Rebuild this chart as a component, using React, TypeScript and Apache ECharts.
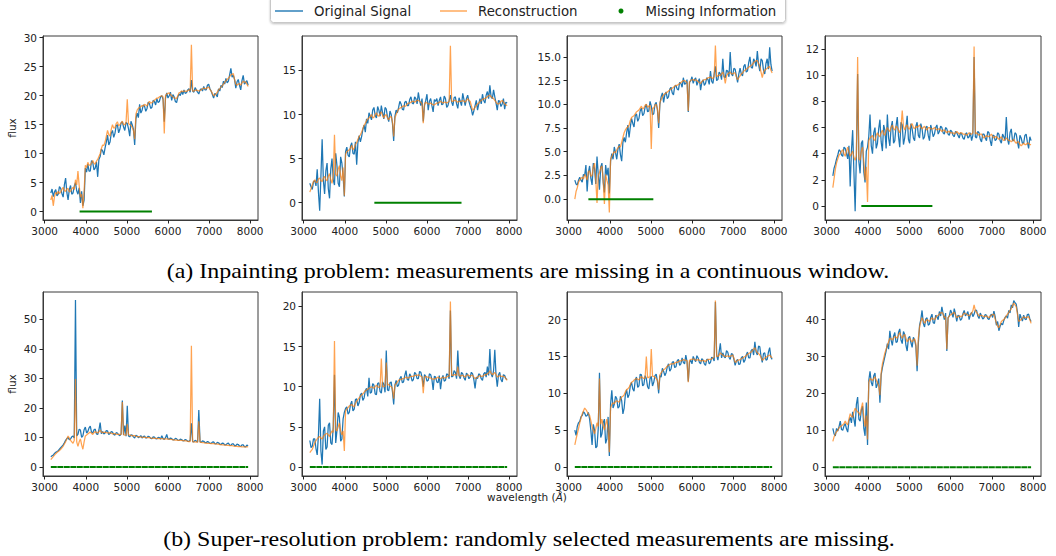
import React, { useEffect, useRef } from "react";
import * as echarts from "echarts";

// ---------------- data ----------------
const wavelengths = [
  3150, 3180, 3210, 3240, 3270, 3300, 3330, 3360, 3390, 3420,
  3450, 3480, 3510, 3540, 3570, 3600, 3630, 3660, 3690, 3720,
  3750, 3780, 3810, 3840, 3870, 3900, 3930, 3960, 3990, 4020,
  4050, 4080, 4110, 4140, 4170, 4200, 4230, 4260, 4290, 4320,
  4350, 4380, 4410, 4440, 4470, 4500, 4530, 4560, 4590, 4620,
  4650, 4680, 4710, 4740, 4770, 4800, 4830, 4860, 4890, 4920,
  4950, 4980, 5010, 5040, 5070, 5100, 5130, 5160, 5190, 5220,
  5250, 5280, 5310, 5340, 5370, 5400, 5430, 5460, 5490, 5520,
  5550, 5580, 5610, 5640, 5670, 5700, 5730, 5760, 5790, 5820,
  5850, 5880, 5910, 5940, 5970, 6000, 6030, 6060, 6090, 6120,
  6150, 6180, 6210, 6240, 6270, 6300, 6330, 6360, 6390, 6420,
  6450, 6480, 6510, 6540, 6570, 6600, 6630, 6660, 6690, 6720,
  6750, 6780, 6810, 6840, 6870, 6900, 6930, 6960, 6990, 7020,
  7050, 7080, 7110, 7140, 7170, 7200, 7230, 7260, 7290, 7320,
  7350, 7380, 7410, 7440, 7470, 7500, 7530, 7560, 7590, 7620,
  7650, 7680, 7710, 7740, 7770, 7800, 7830, 7860, 7890, 7920,
  7950,
];

// (a) inpainting
const a1Original = [3.2,3.9,2.6,3.4,3.8,2.7,3.0,4.3,4.0,3.1,2.5,4.6,5.8,3.3,2.0,3.8,4.5,3.0,3.2,4.4,5.0,3.6,3.0,4.1,1.5,3.5,1.0,2.0,7.5,6.8,8.2,7.0,7.0,8.8,8.5,7.2,7.5,8.6,6.0,9.0,9.5,10.8,10.5,9.8,11.0,12.0,13.2,11.5,12.0,13.5,14.0,12.8,13.5,14.8,15.0,13.6,14.2,15.3,15.5,14.6,14.0,15.4,15.2,14.3,13.0,15.6,15.0,14.2,11.5,16.0,17.0,16.2,18.5,17.0,17.5,18.4,18.2,17.3,17.8,18.9,18.6,17.8,18.0,19.2,19.0,18.4,19.5,18.8,19.0,19.8,20.0,19.4,15.5,19.6,20.5,19.6,20.0,20.6,19.2,20.2,19.8,19.0,18.8,19.8,20.3,20.0,20.8,20.2,21.0,20.4,20.5,21.0,21.2,20.6,22.7,20.8,20.6,21.4,21.0,20.6,20.3,21.0,21.2,20.8,21.6,21.0,21.0,21.8,22.0,21.2,20.8,20.2,19.6,20.4,20.2,19.8,21.2,20.8,21.8,21.4,22.5,22.0,23.0,22.2,22.5,23.6,24.7,23.2,23.5,22.8,21.3,22.4,22.8,21.8,21.0,22.6,23.5,22.0,22.3,22.6,21.8];
const a1Reconstruction = [2.0,2.8,1.0,2.6,3.3,3.0,3.5,3.1,3.4,3.8,4.2,3.6,3.5,3.9,4.0,3.4,3.5,3.9,4.2,3.8,5.5,4.6,7.0,4.5,2.5,3.0,0.6,3.5,8.0,7.6,8.5,8.0,8.0,8.4,8.8,8.3,8.2,8.7,9.0,9.5,10.0,10.9,11.5,11.4,12.0,13.0,14.0,13.3,13.0,14.2,15.0,14.4,14.5,15.2,15.5,14.8,15.0,15.3,15.6,15.0,15.0,15.4,19.4,15.2,15.0,14.9,14.5,14.0,12.5,16.8,17.5,17.8,18.0,18.1,18.3,18.2,18.5,18.4,18.2,18.7,19.0,18.7,18.8,19.0,19.2,19.4,19.6,19.6,19.8,19.9,20.0,19.8,13.5,20.0,20.3,20.4,20.5,20.2,20.0,19.8,19.6,19.6,19.5,20.0,20.5,20.6,20.8,20.7,20.8,20.8,20.7,20.9,21.0,20.9,28.8,20.8,20.8,20.9,21.0,20.9,20.8,20.9,21.0,21.2,21.3,21.2,21.2,21.4,21.5,21.1,20.8,20.4,20.0,20.1,20.3,20.6,21.0,21.2,21.5,21.7,22.0,22.3,22.6,22.8,23.0,23.3,23.6,23.7,23.8,22.8,22.0,21.8,22.0,22.1,21.8,22.2,22.5,22.3,22.4,22.0,21.6];
const a1Missing = [3850, 5610];

const a2Original = [2.2,1.8,1.5,2.4,2.5,1.9,3.8,1.2,-0.9,3.0,7.2,2.5,1.0,3.6,4.5,1.6,0.5,3.8,5.0,2.6,2.0,5.6,4.2,2.2,1.8,5.2,4.5,3.0,0.7,5.8,6.3,5.4,5.2,6.4,6.8,5.6,5.5,6.9,4.3,6.8,7.6,6.9,7.5,8.3,8.8,8.0,9.5,9.0,10.2,9.8,9.4,10.5,10.8,9.9,9.6,10.9,10.5,9.8,11.0,10.2,9.5,10.8,10.6,9.7,9.2,10.4,10.0,9.0,7.0,9.8,10.5,10.2,10.8,11.5,11.2,10.6,10.5,11.4,11.5,11.0,11.0,11.7,12.0,11.3,11.2,12.0,11.8,11.2,12.5,11.6,11.0,11.8,9.2,11.0,11.6,12.3,10.5,11.5,11.8,11.0,10.3,11.7,11.5,11.8,11.0,11.6,12.0,11.1,11.2,12.1,11.8,10.8,11.0,11.6,12.2,11.4,11.0,11.9,12.0,11.2,10.7,11.9,11.5,11.0,12.4,11.7,11.0,11.8,12.2,11.5,11.0,10.6,9.9,10.4,11.0,11.6,10.5,11.2,11.8,11.2,12.3,11.6,11.3,12.2,12.6,11.8,13.3,12.0,11.8,12.8,12.0,11.3,10.5,11.6,11.5,10.9,11.2,11.8,10.6,11.4,11.3];
const a2Reconstruction = [1.2,1.6,2.0,2.4,2.6,2.3,2.3,2.7,2.8,2.5,2.4,2.8,3.0,2.6,2.5,3.0,3.3,2.6,2.2,3.0,7.7,3.2,3.0,3.8,4.2,3.0,2.5,4.0,0.8,5.5,5.8,5.9,6.0,6.2,6.5,6.0,6.2,6.6,6.8,7.2,7.5,7.7,8.0,8.4,8.8,9.0,9.3,9.5,9.6,9.8,10.0,9.6,9.7,10.0,10.2,9.9,9.8,10.1,10.3,9.9,9.6,9.9,10.0,9.6,9.4,9.7,9.8,9.2,7.5,9.6,10.0,10.3,10.6,10.7,10.8,10.9,11.0,10.9,11.0,11.2,11.3,11.3,11.4,11.5,11.5,11.4,11.5,11.6,11.6,11.5,11.4,11.2,9.0,11.2,11.4,11.3,11.2,11.2,11.3,11.2,11.1,11.1,11.2,11.3,11.3,11.4,11.5,11.4,11.3,11.4,11.4,11.3,11.4,11.5,17.8,11.5,11.5,11.6,11.6,11.5,11.4,11.5,11.5,11.5,11.6,11.5,11.4,11.6,11.8,11.6,11.5,11.0,10.5,10.6,10.8,11.0,11.2,11.3,11.5,11.6,11.7,11.8,11.8,11.9,12.0,12.1,12.2,12.0,11.9,11.8,11.6,11.4,11.2,11.2,11.3,11.5,11.6,11.4,11.2,11.1,11.0];
const a2Missing = [4720, 6840];

const a3Original = [2.0,1.6,1.5,2.0,2.3,2.0,1.8,2.6,2.5,3.6,0.8,2.8,3.5,2.2,1.5,3.8,3.2,1.6,4.5,2.6,1.0,3.4,3.8,1.8,0.7,3.6,2.5,3.3,0.6,4.0,4.8,4.2,5.5,4.9,4.2,5.3,5.8,4.7,4.0,6.0,6.5,6.0,7.0,7.8,6.5,7.6,8.5,8.0,7.6,8.8,9.0,8.2,8.5,9.3,9.6,8.8,9.0,9.7,10.0,9.2,9.3,10.3,9.8,8.9,9.0,10.0,10.2,9.4,7.5,10.0,10.8,11.2,10.2,11.0,11.3,10.6,10.8,11.6,11.8,11.2,11.0,11.9,12.0,11.6,11.5,12.3,12.2,11.8,12.8,12.1,12.2,12.6,9.2,12.3,12.5,12.9,12.2,12.6,12.8,12.0,12.4,12.7,11.5,12.3,12.6,12.0,12.2,12.8,12.6,12.1,13.5,12.4,12.2,13.2,14.0,12.5,12.6,13.4,13.2,12.6,14.8,12.9,12.8,13.6,13.5,12.9,15.5,13.2,13.0,13.8,13.7,13.0,12.3,13.2,13.8,13.2,13.0,14.0,14.2,13.4,13.5,14.4,15.0,13.9,13.8,14.8,14.5,14.0,15.6,14.2,13.5,14.8,14.6,13.6,13.2,14.3,14.8,13.7,16.0,14.2,13.5];
const a3Reconstruction = [0.0,0.8,1.2,1.8,2.0,2.2,2.3,2.1,2.6,2.4,2.0,2.9,3.0,2.4,2.5,3.4,3.8,2.0,-0.4,2.5,2.8,3.3,3.5,2.0,-0.5,2.6,2.0,1.5,-1.4,4.2,4.5,4.8,5.0,4.9,5.2,5.4,5.6,5.5,6.0,6.5,7.0,7.3,7.5,7.6,7.8,8.3,8.6,8.7,8.8,9.0,9.2,9.3,9.4,9.6,9.8,9.5,9.6,9.9,10.0,9.7,9.8,9.9,5.3,9.6,9.6,9.9,10.0,9.5,8.0,10.2,10.5,10.8,11.0,11.1,11.2,11.3,11.4,11.5,11.6,11.7,11.8,11.9,12.0,12.0,12.1,12.2,12.3,12.4,12.5,12.5,12.4,12.3,9.3,12.4,12.5,12.6,12.6,12.5,12.6,12.5,12.4,12.3,12.2,12.4,12.5,12.6,12.6,12.7,12.8,12.8,12.9,12.8,12.7,12.9,16.2,12.9,13.0,13.1,13.0,13.2,13.4,13.0,12.2,13.0,13.2,13.3,13.4,13.2,13.2,13.3,13.3,12.9,12.6,12.8,13.0,13.2,13.3,13.5,13.6,13.7,13.8,13.9,14.0,14.1,14.2,14.4,14.5,14.6,14.6,14.3,14.0,13.4,12.8,13.4,13.6,13.7,13.8,13.9,14.0,13.6,13.3];
const a3Missing = [3480, 5060];

const a4Original = [2.3,2.9,3.2,3.6,3.9,4.3,4.2,3.9,3.8,4.5,4.4,4.0,3.6,4.6,1.5,4.2,5.8,2.6,-0.4,3.8,10.1,3.4,2.5,4.8,5.0,2.6,1.8,4.2,4.5,5.3,7.0,4.6,4.0,5.6,6.0,4.4,4.8,5.9,6.6,4.9,4.2,6.2,5.8,4.4,7.0,5.2,4.6,6.0,6.5,4.8,5.0,6.1,6.8,5.3,4.5,6.4,6.2,4.7,5.2,6.0,6.9,5.1,4.8,6.3,5.9,5.2,5.0,6.1,6.4,5.4,5.2,6.3,5.9,5.1,5.3,6.0,6.1,5.4,5.0,6.2,5.8,5.3,5.5,6.0,6.2,5.5,5.7,6.1,6.0,5.6,5.5,6.0,5.9,5.5,5.4,5.8,5.7,5.4,5.3,5.7,5.6,5.4,5.2,5.6,5.5,5.2,5.1,5.5,5.6,5.2,5.3,5.6,5.0,5.4,11.4,5.3,5.2,5.7,5.6,5.1,4.9,5.5,5.5,5.2,5.0,5.7,5.6,5.0,4.6,5.4,5.4,5.0,5.1,5.6,5.5,5.0,4.8,5.5,5.3,5.0,6.8,5.1,4.7,5.6,5.9,5.0,5.0,5.6,5.5,4.9,4.4,5.4,5.2,4.8,4.8,5.4,5.5,4.9,4.4,5.3,5.0];
const a4Reconstruction = [1.4,2.1,2.8,3.3,3.6,3.9,4.0,4.2,4.3,4.0,3.8,4.2,4.5,4.1,3.8,4.0,4.2,3.7,3.5,3.8,11.4,3.6,3.5,4.2,4.5,3.4,2.0,3.0,0.3,5.0,5.2,5.3,5.4,5.1,5.0,5.4,5.6,5.4,5.3,5.6,5.8,5.5,5.4,5.8,6.0,5.8,5.7,6.0,6.2,5.9,5.8,6.1,6.0,5.8,5.6,6.0,7.3,6.1,5.8,6.1,6.2,5.9,5.9,6.2,6.3,6.0,5.9,6.1,6.0,6.1,6.2,6.0,5.9,6.0,6.1,5.9,5.8,6.0,6.0,5.9,5.9,5.9,6.0,5.9,5.8,5.9,5.9,5.8,5.7,5.8,5.8,5.7,5.6,5.7,5.7,5.6,5.6,5.6,5.5,5.6,5.7,5.6,5.5,5.6,5.6,5.5,5.5,5.5,5.4,5.5,5.6,5.5,5.5,5.6,12.2,5.5,5.6,5.5,5.4,5.5,5.5,5.3,5.2,5.3,5.4,5.3,5.3,5.4,5.5,5.3,5.2,5.3,5.3,5.2,5.1,5.2,5.3,5.1,5.0,5.1,5.2,5.1,5.0,5.0,4.9,5.0,5.1,4.9,4.8,4.9,4.9,4.7,4.6,4.7,4.8,4.7,4.7,4.8,4.8,4.7,4.7];
const a4Missing = [3840, 5560];

// (b) super-resolution
const b1Original = [3.5,3.8,4.0,4.6,5.0,5.2,5.5,6.0,6.5,7.0,7.5,8.2,9.0,9.6,10.0,9.2,9.5,10.2,10.5,9.8,56.5,10.5,11.0,12.8,12.5,10.0,10.5,12.6,13.5,11.5,12.0,13.2,13.8,11.8,11.5,12.6,12.8,11.2,11.0,12.5,15.0,11.3,12.0,11.2,11.5,12.3,12.2,11.0,11.3,12.0,11.8,11.0,10.8,11.6,11.5,10.9,10.6,11.2,22.5,10.8,14.0,10.4,20.7,10.5,10.2,10.9,10.8,10.2,9.8,10.7,10.5,9.9,10.2,10.6,9.8,10.3,10.5,9.8,9.9,10.4,10.2,9.7,9.6,10.2,10.1,9.6,9.5,10.0,9.9,9.4,10.6,9.6,9.3,9.9,11.0,9.5,9.4,9.8,9.6,9.2,9.2,9.7,9.5,9.1,9.0,9.4,9.3,8.9,8.8,9.3,9.1,8.7,8.7,9.0,14.8,8.6,8.5,9.0,8.8,8.4,19.3,8.6,8.3,8.8,8.7,8.3,8.2,8.6,8.4,8.0,8.0,8.4,8.5,7.9,7.8,8.3,8.2,7.7,7.6,8.1,8.0,7.5,7.5,7.9,8.1,7.4,7.3,7.8,7.8,7.2,7.2,7.7,7.6,7.1,7.0,7.5,7.5,6.9,6.8,7.4,7.2];
const b1Reconstruction = [2.5,3.0,3.5,4.0,4.5,4.9,5.2,5.6,6.0,6.5,7.0,7.8,8.5,9.5,10.5,9.8,9.0,8.5,8.0,9.0,29.8,8.5,7.0,8.5,9.5,7.5,6.0,8.5,10.5,10.8,11.2,11.5,11.8,11.4,11.0,11.6,12.0,11.7,11.5,11.9,12.5,11.8,11.6,11.7,11.8,11.6,11.5,11.5,11.6,11.4,11.2,11.3,11.3,11.1,11.0,11.0,11.0,10.9,22.0,10.9,10.8,10.8,14.5,10.9,10.8,10.7,10.5,10.6,10.6,10.4,10.3,10.3,10.2,10.1,10.1,10.0,10.0,10.0,9.9,9.9,9.9,9.8,9.8,9.7,9.7,9.7,9.7,9.6,9.6,9.6,9.6,9.5,9.4,9.5,9.5,9.4,9.4,9.3,9.3,9.2,9.2,9.1,9.1,9.0,9.0,9.0,9.0,8.9,8.9,8.8,8.8,8.7,8.6,8.6,41.0,8.5,8.5,8.5,8.4,8.4,15.5,8.3,8.3,8.2,8.2,8.1,8.1,8.0,8.0,8.0,7.9,7.9,7.9,7.8,7.8,7.7,7.7,7.6,7.6,7.5,7.5,7.4,7.4,7.3,7.3,7.2,7.2,7.2,7.1,7.0,7.0,7.0,6.9,6.9,6.9,6.8,6.8,6.8,6.8,6.8,6.9];
const b1Missing = [3150, 7950];

const b2Original = [3.3,2.4,2.6,3.5,3.5,2.3,1.5,4.0,8.5,2.0,0.3,4.5,5.0,2.2,2.5,5.2,5.5,3.0,2.8,5.0,11.5,3.0,4.5,6.8,6.2,3.2,3.5,6.0,6.8,7.3,7.5,6.6,6.8,7.8,8.2,7.0,7.2,8.4,8.5,7.6,8.0,9.0,9.2,8.3,8.6,9.5,9.8,8.8,11.1,9.2,9.3,10.4,10.2,9.1,9.0,10.4,10.5,9.4,9.2,10.6,10.3,9.3,14.5,9.6,9.5,10.5,10.6,9.4,7.8,10.2,10.8,10.0,10.2,11.0,11.3,10.5,10.6,11.4,12.0,10.9,10.8,11.6,11.3,10.7,10.9,11.8,11.6,11.0,11.0,11.9,11.8,11.2,10.0,11.5,11.3,10.7,10.8,11.6,11.5,10.9,9.6,11.3,11.2,10.6,10.5,11.4,9.7,11.0,11.4,10.7,10.8,11.6,11.5,11.0,19.5,11.2,11.3,12.0,11.8,11.0,14.5,11.4,11.0,11.8,11.6,11.1,10.8,11.7,11.5,11.0,11.2,11.8,11.6,10.9,9.8,11.2,11.0,11.6,11.5,11.0,10.8,11.6,11.8,11.2,12.5,11.4,14.7,11.6,11.2,12.0,14.6,11.4,10.0,11.5,11.8,10.9,10.6,11.5,11.4,11.0,10.9];
const b2Reconstruction = [1.8,2.0,2.2,2.6,3.0,3.3,3.5,3.7,3.8,3.6,3.5,3.8,4.0,4.1,4.2,4.0,3.8,4.2,4.5,4.3,15.7,4.6,4.5,5.0,5.5,4.5,4.0,4.5,2.0,7.0,7.2,7.4,7.6,7.7,7.8,7.6,7.5,7.9,8.2,8.4,8.6,8.8,9.0,9.1,9.3,9.5,9.6,9.7,9.8,9.9,10.0,9.9,9.8,10.0,10.2,10.0,9.9,10.0,13.5,10.0,10.0,10.1,13.0,10.2,10.3,10.1,10.0,9.8,8.5,10.2,10.4,10.6,10.8,10.9,10.9,11.0,11.0,11.1,11.2,11.1,11.1,11.2,11.3,11.3,11.3,11.4,11.4,11.4,11.5,11.4,11.3,11.2,9.2,11.2,11.3,11.2,11.2,11.1,11.1,11.0,10.9,11.0,11.0,11.1,11.2,11.1,11.0,11.1,11.2,11.1,11.1,11.2,11.3,11.3,20.6,11.4,11.4,11.5,11.5,11.4,12.5,11.4,11.3,11.4,11.4,11.3,11.2,11.4,11.5,11.4,11.3,11.4,11.4,11.2,11.0,11.1,11.2,11.3,11.4,11.3,11.3,11.4,11.5,11.5,11.6,11.7,12.0,11.7,11.5,11.6,11.8,11.5,11.2,11.3,11.4,11.3,11.3,11.3,11.2,11.0,10.8];
const b2Missing = [3150, 7950];

const b3Original = [5.0,4.3,5.5,6.0,6.2,6.8,7.0,7.5,7.3,6.9,7.0,7.4,6.5,5.0,3.0,5.8,5.0,2.6,2.8,5.2,12.8,4.0,4.5,6.0,6.5,3.2,3.8,6.8,1.5,8.5,10.4,8.0,8.5,9.6,9.3,8.0,8.2,9.6,9.0,7.2,8.0,9.8,10.5,9.4,9.8,11.0,11.5,10.6,10.3,11.8,12.2,10.8,11.0,12.6,12.5,11.0,11.2,12.4,12.0,10.9,10.6,12.0,12.3,11.0,11.5,12.4,12.6,11.6,10.0,12.4,12.2,13.4,13.0,12.4,12.8,13.6,14.0,13.0,13.3,14.2,14.3,13.5,13.6,14.4,14.6,13.8,14.0,14.8,14.2,14.0,15.2,14.3,11.6,14.2,14.5,14.0,15.0,14.6,14.3,15.1,14.8,14.2,14.0,14.7,14.5,14.0,13.8,14.6,14.6,14.0,14.2,14.9,14.8,14.4,22.4,15.2,14.5,15.6,16.8,14.8,15.5,15.0,14.8,15.8,15.6,14.9,14.6,15.4,15.3,14.6,13.8,14.4,14.6,13.9,14.0,14.8,15.0,14.2,14.5,15.2,15.6,14.8,14.8,15.8,16.0,15.2,17.0,15.6,15.2,16.4,16.3,15.0,14.2,15.4,15.5,14.5,14.6,15.6,16.2,14.9,14.6];
const b3Reconstruction = [3.0,3.8,4.5,5.2,6.0,6.6,7.2,7.6,8.0,7.8,7.5,7.2,7.0,6.3,5.5,5.0,4.5,5.2,6.0,5.5,12.0,5.8,6.5,5.6,5.0,5.8,6.5,5.0,2.0,8.0,8.5,8.7,8.6,8.9,9.0,8.9,8.8,9.2,9.5,9.6,9.8,10.2,10.5,10.6,10.8,11.2,11.5,11.6,11.8,11.9,12.0,11.9,11.8,12.1,12.3,12.1,12.0,12.1,15.0,12.1,12.2,12.2,16.0,12.3,12.3,12.2,12.0,11.8,10.5,12.5,12.8,13.0,13.2,13.3,13.5,13.7,13.8,13.9,14.0,14.0,14.0,14.1,14.2,14.2,14.3,14.4,14.4,14.5,14.6,14.5,14.5,14.4,11.5,14.5,14.6,14.6,14.7,14.6,14.5,14.5,14.6,14.5,14.4,14.4,14.5,14.4,14.3,14.5,14.6,14.6,14.6,14.7,14.8,14.9,22.6,15.0,15.0,15.2,15.5,15.3,15.2,15.1,15.0,15.0,15.1,15.0,15.0,15.1,15.2,14.8,14.2,14.3,14.5,14.5,14.6,14.7,14.8,14.9,15.0,15.1,15.3,15.4,15.5,15.6,15.8,16.0,16.2,15.8,15.5,15.4,15.2,14.9,14.5,14.6,14.8,14.9,15.0,15.1,15.2,15.0,14.8];
const b3Missing = [3150, 7950];

const b4Original = [10.5,9.0,8.5,10.5,9.8,11.0,12.5,10.2,10.0,11.2,11.8,10.4,9.5,12.5,13.5,12.0,15.0,13.0,11.0,17.0,19.0,13.0,12.5,15.5,16.5,10.5,8.5,17.5,6.0,23.5,26.0,23.0,22.0,24.8,25.5,21.5,22.5,24.0,17.5,25.0,27.0,28.5,30.0,31.5,33.5,32.0,37.0,34.5,33.0,35.5,36.5,33.8,34.0,36.5,37.5,34.5,33.5,36.8,36.0,33.0,31.5,35.0,35.5,33.8,32.5,35.2,34.5,32.8,26.0,33.5,38.5,40.0,42.5,39.0,38.0,40.2,40.5,38.5,38.8,40.6,41.5,39.2,39.0,41.2,40.8,40.0,42.2,41.0,43.5,41.6,40.0,41.8,31.5,40.5,41.0,42.6,41.8,40.6,43.0,41.5,39.5,41.2,41.0,39.8,40.2,41.6,42.5,41.0,41.5,42.2,40.0,41.4,42.0,40.8,41.5,42.6,42.5,41.0,40.3,41.8,41.0,40.2,40.5,41.4,41.2,40.3,40.0,41.0,41.5,40.6,42.3,40.8,38.5,39.5,37.0,38.2,39.0,38.6,39.8,40.6,41.0,40.4,42.5,41.8,44.0,43.2,45.2,44.6,44.2,42.0,38.0,41.5,40.5,39.6,41.2,40.2,40.0,41.4,41.5,40.2,39.5];
const b4Reconstruction = [7.0,8.2,9.0,9.6,10.0,10.6,11.0,11.2,11.5,11.8,12.5,11.8,11.5,13.0,14.5,13.8,13.5,15.0,16.0,15.4,15.0,14.8,14.0,16.0,17.5,13.5,11.0,14.0,7.5,23.0,24.0,23.8,23.5,24.0,24.5,23.6,23.0,22.0,19.5,25.5,28.0,29.5,31.0,32.0,33.0,34.0,35.0,34.8,34.5,35.0,35.5,35.2,35.0,35.8,36.5,35.5,35.0,35.6,36.0,35.0,34.0,34.5,35.0,34.4,34.0,34.5,34.8,33.5,27.5,35.0,38.0,39.5,40.5,39.8,39.0,39.6,40.0,39.8,39.5,40.0,40.5,40.2,40.0,40.5,41.0,41.2,41.5,41.8,42.0,41.5,40.5,40.8,32.0,40.5,41.0,41.3,41.5,41.8,42.0,41.2,40.5,40.8,41.0,40.9,40.8,41.3,41.8,41.6,41.5,41.2,41.0,41.4,41.8,42.4,44.0,42.5,42.0,41.5,41.0,41.1,41.2,41.0,40.8,40.9,41.0,40.8,40.5,40.9,41.2,41.4,41.5,40.2,39.0,38.2,37.8,38.6,39.5,39.8,40.0,40.5,41.0,41.5,42.0,42.5,43.0,43.8,44.5,44.0,43.5,41.5,39.5,39.8,40.0,40.4,40.8,40.6,40.5,40.7,40.8,40.0,39.0];
const b4Missing = [3150, 7950];

// axis tick labels and limits
const xTicks = [3000, 4000, 5000, 6000, 7000, 8000];
const xLimits = [2960, 8190];
const a1Ticks = [0, 5, 10, 15, 20, 25, 30];
const a2Ticks = [0, 5, 10, 15];
const a3Ticks = [0, 2.5, 5, 7.5, 10, 12.5, 15];
const a4Ticks = [0, 2, 4, 6, 8, 10, 12];
const b1Ticks = [0, 10, 20, 30, 40, 50];
const b2Ticks = [0, 5, 10, 15, 20];
const b3Ticks = [0, 5, 10, 15, 20];
const b4Ticks = [0, 10, 20, 30, 40];
const a1Limits = [-1.45, 30.3];
const a2Limits = [-1.96, 18.9];
const a3Limits = [-2.2, 17.2];
const a4Limits = [-1.07, 13.0];
const b1Limits = [-3.05, 59.2];
const b2Limits = [-1.12, 21.8];
const b3Limits = [-1.22, 23.75];
const b4Limits = [-2.4, 47.5];

const legendNames = ["Original Signal", "Reconstruction", "Missing Information"];
const captionA = "(a) Inpainting problem: measurements are missing in a continuous window.";
const captionB = "(b) Super-resolution problem: randomly selected measurements are missing.";

const panels = [
  { original: a1Original, recon: a1Reconstruction, missing: a1Missing, ticks: a1Ticks, limits: a1Limits, decimals: 0, sparse: false },
  { original: a2Original, recon: a2Reconstruction, missing: a2Missing, ticks: a2Ticks, limits: a2Limits, decimals: 0, sparse: false },
  { original: a3Original, recon: a3Reconstruction, missing: a3Missing, ticks: a3Ticks, limits: a3Limits, decimals: 1, sparse: false },
  { original: a4Original, recon: a4Reconstruction, missing: a4Missing, ticks: a4Ticks, limits: a4Limits, decimals: 0, sparse: false },
  { original: b1Original, recon: b1Reconstruction, missing: b1Missing, ticks: b1Ticks, limits: b1Limits, decimals: 0, sparse: true },
  { original: b2Original, recon: b2Reconstruction, missing: b2Missing, ticks: b2Ticks, limits: b2Limits, decimals: 0, sparse: true },
  { original: b3Original, recon: b3Reconstruction, missing: b3Missing, ticks: b3Ticks, limits: b3Limits, decimals: 0, sparse: true },
  { original: b4Original, recon: b4Reconstruction, missing: b4Missing, ticks: b4Ticks, limits: b4Limits, decimals: 0, sparse: true },
];

// ---------------- layout / style ----------------
const LEFTS = [43, 302, 567, 825];
const WIDTHS = [215, 215, 215, 216];
const TOPS = [36, 292];
const PANEL_H = 184;
const BLUE = "#1f77b4";
const ORANGE = "#ff7f0e";
const GREEN = "#008000";
const SANS = "DejaVu Sans";
const TICK_FS = 10.5;
const LINE_W = 1.25;

function toPairs(vals: number[]) {
  const out: number[][] = [];
  vals.forEach((v, i) => {
    if (wavelengths[i] !== undefined) out.push([wavelengths[i], v]);
  });
  return out;
}

function buildOption() {
  const grid: any[] = [];
  const xAxis: any[] = [];
  const yAxis: any[] = [];
  const series: any[] = [];

  panels.forEach((p, k) => {
    const row = Math.floor(k / 4);
    const col = k % 4;
    grid.push({
      left: LEFTS[col],
      top: TOPS[row],
      width: WIDTHS[col],
      height: PANEL_H,
      show: true,
      borderColor: "#3a3a3a",
      borderWidth: 1,
      backgroundColor: "transparent",
      containLabel: false,
    });
    xAxis.push({
      type: "value",
      gridIndex: k,
      min: xLimits[0],
      max: xLimits[1],
      axisLine: { show: true, onZero: false, lineStyle: { color: "#3a3a3a", width: 1 } },
      axisTick: { show: true, length: 3.5, customValues: xTicks, lineStyle: { color: "#222" } },
      axisLabel: {
        customValues: xTicks,
        fontFamily: SANS,
        fontSize: TICK_FS,
        color: "#222",
        margin: 5,
        formatter: (v: number) => String(v),
      },
      splitLine: { show: false },
    });
    yAxis.push({
      type: "value",
      gridIndex: k,
      min: p.limits[0],
      max: p.limits[1],
      name: col === 0 ? "flux" : "",
      nameLocation: "middle",
      nameGap: 26,
      nameTextStyle: { fontFamily: SANS, fontSize: TICK_FS, color: "#222" },
      axisLine: { show: true, onZero: false, lineStyle: { color: "#3a3a3a", width: 1 } },
      axisTick: { show: true, length: 3.5, customValues: p.ticks, lineStyle: { color: "#222" } },
      axisLabel: {
        customValues: p.ticks,
        fontFamily: SANS,
        fontSize: TICK_FS,
        color: "#222",
        margin: 6,
        formatter: (v: number) => v.toFixed(p.decimals),
      },
      splitLine: { show: false },
    });
    series.push({
      type: "line",
      name: legendNames[0],
      xAxisIndex: k,
      yAxisIndex: k,
      data: toPairs(p.original),
      symbol: "none",
      showSymbol: false,
      silent: true,
      lineStyle: { color: BLUE, width: LINE_W },
      itemStyle: { color: BLUE },
      z: 2,
    });
    series.push({
      type: "line",
      name: legendNames[1],
      xAxisIndex: k,
      yAxisIndex: k,
      data: toPairs(p.recon),
      symbol: "none",
      showSymbol: false,
      silent: true,
      lineStyle: { color: ORANGE, width: LINE_W, opacity: 0.72 },
      itemStyle: { color: ORANGE },
      z: 3,
    });
    series.push({
      type: "line",
      name: legendNames[2],
      xAxisIndex: k,
      yAxisIndex: k,
      data: p.missing.map((w) => [w, 0]),
      symbol: "none",
      showSymbol: false,
      silent: true,
      lineStyle: { color: GREEN, width: 2, type: p.sparse ? [6, 0.5] : "solid" },
      itemStyle: { color: GREEN },
      z: 4,
    });
  });

  const legendBase = {
    top: 3,
    orient: "horizontal",
    selectedMode: false,
    padding: 0,
    textStyle: { fontFamily: SANS, fontSize: 13.3, color: "#222", lineHeight: 16 },
  };

  const legend = [
    {
      ...legendBase,
      left: 275,
      itemWidth: 28,
      itemHeight: 1.4,
      textStyle: { ...legendBase.textStyle, padding: [0, 0, 0, 6] },
      data: [{ name: legendNames[0], icon: "rect", itemStyle: { color: BLUE } }],
    },
    {
      ...legendBase,
      left: 440,
      itemWidth: 27,
      itemHeight: 1.4,
      textStyle: { ...legendBase.textStyle, padding: [0, 0, 0, 6] },
      data: [{ name: legendNames[1], icon: "rect", itemStyle: { color: ORANGE, opacity: 0.72 } }],
    },
    {
      ...legendBase,
      left: 618.5,
      itemWidth: 5,
      itemHeight: 5,
      textStyle: { ...legendBase.textStyle, padding: [0, 0, 0, 17] },
      data: [{ name: legendNames[2], icon: "circle", itemStyle: { color: GREEN } }],
    },
  ];

  const captionStyle = {
    fontFamily: "Liberation Serif",
    fontSize: 22,
    fill: "#000",
    align: "center",
    verticalAlign: "middle",
  };

  const graphic = [
    {
      type: "rect",
      shape: { x: 270.5, y: -3.5, width: 515, height: 26, r: 3 },
      style: { fill: "#fff", stroke: "#c8c8c8", lineWidth: 1, shadowBlur: 2, shadowColor: "rgba(0,0,0,0.25)", shadowOffsetY: 1 },
      z: -1,
      silent: true,
    },
    {
      type: "text",
      x: 528,
      y: 270,
      scaleX: 1.09,
      silent: true,
      style: { ...captionStyle, text: captionA },
    },
    {
      type: "text",
      x: 529,
      y: 538,
      scaleX: 1.09,
      silent: true,
      style: { ...captionStyle, text: captionB },
    },
    {
      type: "text",
      x: 527,
      y: 497,
      silent: true,
      style: {
        text: "{n|wavelength (}{i|Å}{n|)}",
        align: "center",
        verticalAlign: "middle",
        rich: {
          n: { fontFamily: SANS, fontSize: TICK_FS, fill: "#222", color: "#222" },
          i: { fontFamily: SANS, fontSize: TICK_FS, fontStyle: "italic", fill: "#222", color: "#222" },
        },
      },
    },
  ];

  return {
    animation: false,
    backgroundColor: "#ffffff",
    textStyle: { fontFamily: SANS },
    grid,
    xAxis,
    yAxis,
    series,
    legend,
    graphic,
  };
}

export default function App() {
  const ref = useRef<HTMLDivElement>(null);
  useEffect(() => {
    if (!ref.current) return;
    const chart = echarts.init(ref.current, undefined, { renderer: "svg" });
    chart.setOption(buildOption() as any);
    return () => chart.dispose();
  }, []);
  return (
    <div
      ref={ref}
      style={{ position: "absolute", left: 0, top: 0, width: 1056, height: 556, background: "#fff" }}
    />
  );
}
